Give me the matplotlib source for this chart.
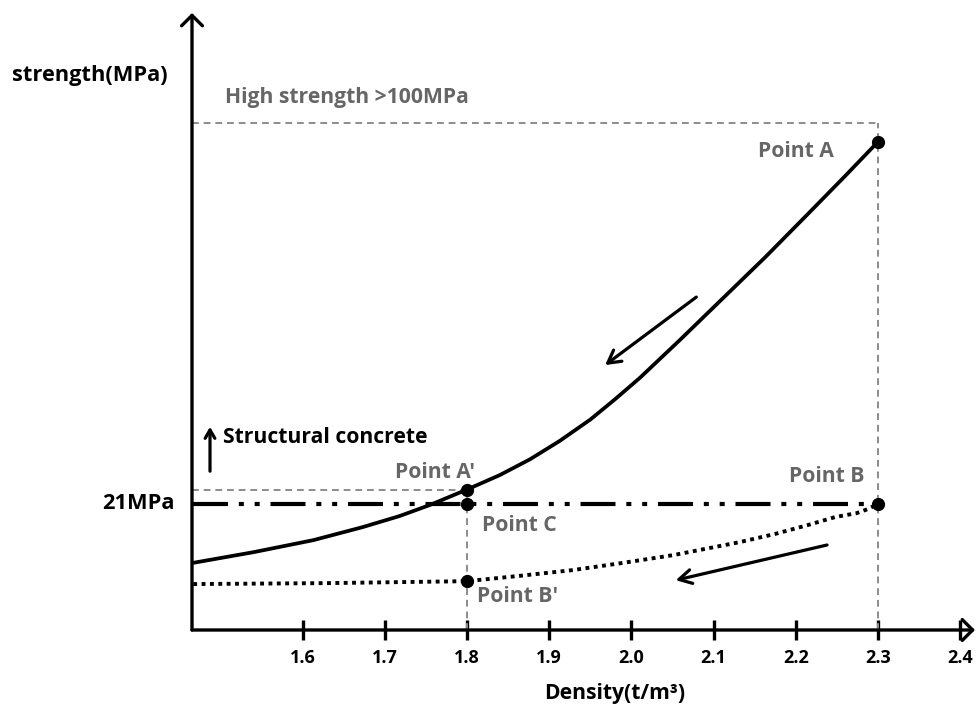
import matplotlib
matplotlib.use("Agg")
import matplotlib.pyplot as plt

plt.rcParams['font.family'] = ['Open Sans', 'DejaVu Sans']
plt.rcParams['font.weight'] = 'bold'

# ---- data ----
solid_x = [1.467, 1.540, 1.613, 1.673, 1.718, 1.755, 1.800, 1.840, 1.877, 1.913,
           1.950, 1.980, 2.010, 2.059, 2.111, 2.163, 2.214, 2.260, 2.300]
solid_y = [8.8, 11.0, 13.5, 16.2, 18.5, 20.8, 24.0, 27.0, 30.3, 34.1,
           38.5, 42.7, 47.1, 55.0, 63.6, 72.2, 81.0, 89.0, 96.1]

dotted_x = [1.467, 1.633, 1.800, 1.864, 1.929, 1.990, 2.051, 2.132, 2.175,
            2.214, 2.248, 2.274, 2.287, 2.300]
dotted_y = [4.4, 4.6, 5.0, 6.1, 7.3, 8.8, 10.4, 13.1, 14.8,
            16.6, 18.3, 19.1, 19.9, 21.0]

structural_level = 21.0      # 21MPa
high_level = 100.0           # high strength >100MPa
x_start = 1.467

point_names = ["Point A", "Point A'", "Point B", "Point B'", "Point C"]
point_x = [2.3, 1.8, 2.3, 1.8, 1.8]
point_y = [96.1, 24.0, 21.0, 5.0, 21.0]

xticks = [1.6, 1.7, 1.8, 1.9, 2.0, 2.1, 2.2, 2.3, 2.4]
xtick_labels = ["1.6", "1.7", "1.8", "1.9", "2.0", "2.1", "2.2", "2.3", "2.4"]

XMIN, XMAX = 1.4655, 2.418
YMIN, YMAX = -5.125, 122.8

GREY_TXT = '#666666'
GREY_LN = '#8c8c8c'

fig = plt.figure(figsize=(9.78, 7.08), dpi=100)
ax = fig.add_axes([192/978, (708-630)/708, (975-192)/978, (630-13)/708])
ax.set_xlim(XMIN, XMAX)
ax.set_ylim(YMIN, YMAX)
for s in ax.spines.values():
    s.set_visible(False)
ax.set_yticks([])
ax.set_xticks(xticks)
ax.set_xticklabels(xtick_labels, fontsize=13, fontweight='bold')
ax.tick_params(axis='x', direction='inout', length=15, width=2.4, pad=6)

# axes with arrows
ax.annotate('', xy=(1.0, 0.0), xytext=(0.0, 0.0), xycoords='axes fraction',
            arrowprops=dict(arrowstyle='->,head_length=0.75,head_width=0.75',
                            lw=2.4, color='black', shrinkA=0, shrinkB=0))
ax.annotate('', xy=(0.0, 1.0), xytext=(0.0, 0.0), xycoords='axes fraction',
            arrowprops=dict(arrowstyle='->,head_length=0.75,head_width=0.75',
                            lw=2.4, color='black', shrinkA=0, shrinkB=0))

# grey dashed guides
dash = (0, (3.5, 2.5))
ax.plot([XMIN, point_x[0]], [high_level, high_level], color=GREY_LN, lw=1.4, ls=dash)
ax.plot([point_x[0], point_x[0]], [YMIN, high_level], color=GREY_LN, lw=1.4, ls=dash)
ax.plot([XMIN, point_x[1]], [point_y[1], point_y[1]], color=GREY_LN, lw=1.4, ls=dash)
ax.plot([point_x[1], point_x[1]], [YMIN, point_y[1]], color=GREY_LN, lw=1.4, ls=dash)

# dash-dot 21 MPa line
ax.plot([x_start, point_x[2]], [structural_level, structural_level], color='black',
        lw=3.0, ls=(0, (8.4, 2.6, 1.2, 2.6, 1.2, 2.6)))

# curves
ax.plot(solid_x, solid_y, color='black', lw=2.7, solid_capstyle='round',
        solid_joinstyle='round')
ax.plot(dotted_x, dotted_y, color='black', lw=2.8, ls=(0, (1.0, 1.15)))

# points
ax.plot(point_x, point_y, 'o', color='black', ms=8.5, zorder=5)

# curve direction arrows
arrow_kw = dict(arrowstyle='->,head_length=0.9,head_width=0.5', lw=2.3, color='black',
                shrinkA=0, shrinkB=0)
ax.annotate('', xy=(1.968, 49.8), xytext=(2.079, 63.9), arrowprops=arrow_kw)
ax.annotate('', xy=(2.054, 5.2), xytext=(2.238, 12.5), arrowprops=arrow_kw)
ax.annotate('', xy=(1.4874, 37.0), xytext=(1.4874, 27.8),
            arrowprops=dict(arrowstyle='->,head_length=0.6,head_width=0.35', lw=2.3,
                            color='black', shrinkA=0, shrinkB=0))

fs = 15.2
# texts
ax.text(1.5056, 105.2, "High strength >100MPa", color=GREY_TXT, fontsize=fs,
        fontweight='bold', ha='left', va='center')
ax.text(2.2465, 94.0, point_names[0], color=GREY_TXT, fontsize=fs, fontweight='bold',
        ha='right', va='center')
ax.text(1.8097, 27.6, point_names[1], color=GREY_TXT, fontsize=fs, fontweight='bold',
        ha='right', va='center')
ax.text(2.283, 26.8, point_names[2], color=GREY_TXT, fontsize=fs, fontweight='bold',
        ha='right', va='center')
ax.text(1.812, 1.9, point_names[3], color=GREY_TXT, fontsize=fs, fontweight='bold',
        ha='left', va='center')
ax.text(1.8182, 16.6, point_names[4], color=GREY_TXT, fontsize=fs, fontweight='bold',
        ha='left', va='center')
ax.text(1.5032, 34.7, "Structural concrete", color='black', fontsize=fs,
        fontweight='bold', ha='left', va='center')
ax.text(1.4448, structural_level, "21MPa", color='black', fontsize=fs + 0.5,
        fontweight='bold', ha='right', va='center', clip_on=False)
ax.text(1.2465, 109.9, "strength(MPa)", color='black', fontsize=fs + 0.5,
        fontweight='bold', ha='left', va='center', clip_on=False)
ax.text(1.98, -18.2, "Density(t/m³)", color='black', fontsize=fs,
        fontweight='bold', ha='center', va='center', clip_on=False)

fig.savefig("out.png", dpi=100)
